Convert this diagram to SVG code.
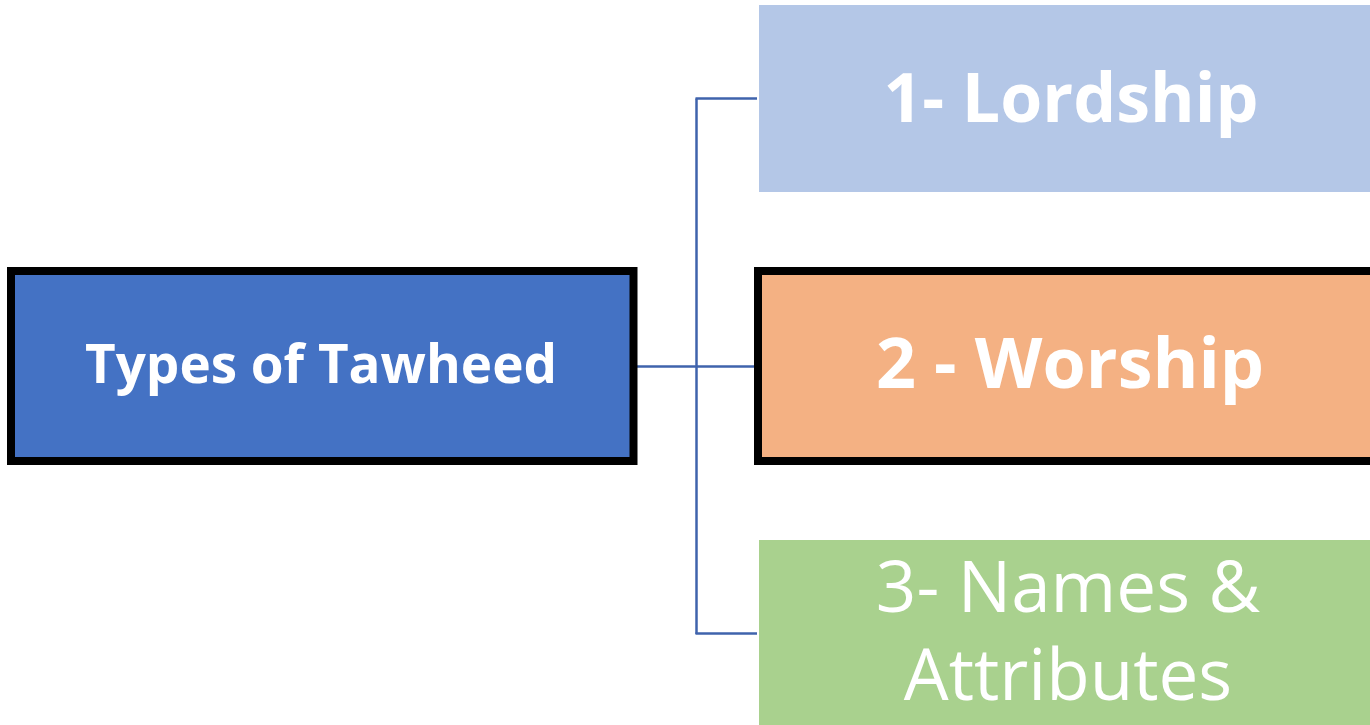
<svg xmlns="http://www.w3.org/2000/svg" width="1370" height="725" viewBox="0 0 1370 725">
<style>
.t{font-family:"Open Sans","Liberation Sans",sans-serif;fill:#FFFFFF;text-anchor:middle}
.b{font-weight:bold}
.c{fill:none;stroke:#3F63AC;stroke-width:2.5}
</style>
<rect width="1370" height="725" fill="#FFFFFF"/>
<g id="connectors">
<path class="c" d="M637 366.5H757"/>
<path class="c" d="M696.5 98.5V634"/>
<path class="c" d="M695.5 98.5H757"/>
<path class="c" d="M695.5 633.5H757"/>
</g>
<g id="root">
<rect x="11" y="271" width="622.5" height="190" fill="#4472C4" stroke="#000000" stroke-width="8"/>
<text class="t b" x="321" y="383" font-size="53">Types of Tawheed</text>
</g>
<g id="lordship">
<rect x="759" y="5" width="620" height="187" fill="#B4C7E7"/>
<text class="t b" x="1071" y="122" font-size="68">1- Lordship</text>
</g>
<g id="worship">
<rect x="758" y="271" width="620" height="190" fill="#F4B183" stroke="#000000" stroke-width="8"/>
<text class="t b" x="1070" y="388" font-size="70">2 - Worship</text>
</g>
<g id="names">
<rect x="759" y="540" width="620" height="200" fill="#A9D18E"/>
<text class="t" font-size="71"><tspan x="1068" y="612">3- Names &amp;</tspan><tspan x="1068" y="700">Attributes</tspan></text>
</g>
</svg>
